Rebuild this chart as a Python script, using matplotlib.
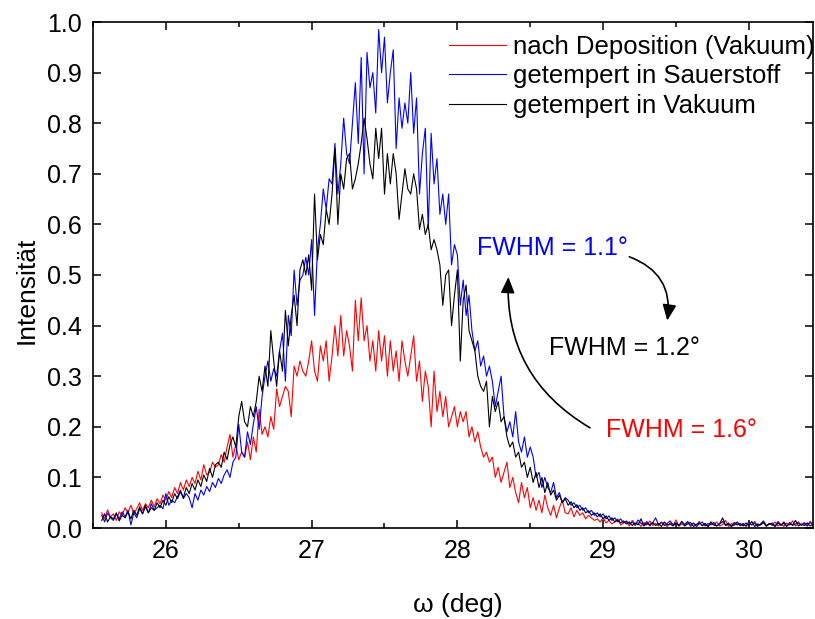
import numpy as np
import matplotlib
matplotlib.use("Agg")
import matplotlib.pyplot as plt
from matplotlib.ticker import MultipleLocator, FormatStrFormatter
from matplotlib import font_manager

# omega grid (deg), step 0.02 from 25.56
omega_start = 25.56
omega_step = 0.02

red_deposition = [
    0.030, 0.018, 0.036, 0.022, 0.028, 0.015, 0.032, 0.025, 0.040, 0.030,
    0.045, 0.028, 0.038, 0.050, 0.035, 0.048, 0.040, 0.055, 0.042, 0.058,
    0.048, 0.065, 0.055, 0.072, 0.060, 0.080, 0.068, 0.090, 0.075, 0.095,
    0.082, 0.100, 0.088, 0.112, 0.095, 0.125, 0.105, 0.110, 0.130, 0.120,
    0.125, 0.145, 0.130, 0.160, 0.185, 0.140, 0.165, 0.135, 0.150, 0.140,
    0.170, 0.135, 0.180, 0.150, 0.235, 0.185, 0.200, 0.180, 0.220, 0.195,
    0.275, 0.240, 0.260, 0.280, 0.270, 0.220, 0.320, 0.300, 0.330, 0.310,
    0.300, 0.330, 0.370, 0.310, 0.290, 0.360, 0.330, 0.370, 0.290, 0.340,
    0.400, 0.340, 0.420, 0.340, 0.390, 0.360, 0.310, 0.450, 0.370, 0.455,
    0.370, 0.400, 0.330, 0.370, 0.310, 0.390, 0.330, 0.380, 0.300, 0.370,
    0.310, 0.350, 0.290, 0.370, 0.330, 0.300, 0.340, 0.380, 0.290, 0.330,
    0.250, 0.310, 0.280, 0.200, 0.310, 0.230, 0.270, 0.220, 0.260, 0.200,
    0.220, 0.240, 0.200, 0.230, 0.210, 0.230, 0.180, 0.200, 0.170, 0.190,
    0.160, 0.140, 0.150, 0.130, 0.140, 0.100, 0.120, 0.090, 0.110, 0.130,
    0.080, 0.100, 0.070, 0.050, 0.090, 0.060, 0.080, 0.040, 0.060, 0.035,
    0.055, 0.030, 0.065, 0.040, 0.025, 0.045, 0.020, 0.040, 0.055, 0.030,
    0.028, 0.040, 0.022, 0.035, 0.025, 0.030, 0.018, 0.025, 0.020, 0.015,
    0.018, 0.012, 0.020, 0.010, 0.015, 0.008, 0.012, 0.018, 0.006, 0.010,
    0.012, 0.004, 0.015, 0.008, 0.010, 0.003, 0.011, 0.006, 0.014, 0.005,
    0.009, 0.004, 0.012, 0.007, 0.003, 0.010, 0.006, 0.016, 0.004, 0.008,
    0.005, 0.011, 0.003, 0.009, 0.006, 0.013, 0.004, 0.008, 0.002, 0.010,
    0.006, 0.012, 0.004, 0.007, 0.015, 0.003, 0.009, 0.005, 0.011, 0.004,
    0.008, 0.003, 0.010, 0.006, 0.013, 0.004, 0.007, 0.011, 0.003, 0.009,
    0.005, 0.012, 0.004, 0.008, 0.003, 0.010, 0.006, 0.014, 0.004, 0.009,
    0.006, 0.011, 0.004, 0.013, 0.007,
]

blue_oxygen = [
    0.025, 0.012, 0.030, 0.020, 0.015, 0.028, 0.018, 0.032, 0.022, 0.035,
    0.006, 0.030, 0.020, 0.038, 0.028, 0.042, 0.030, 0.048, 0.035, 0.040,
    0.045, 0.038, 0.068, 0.045, 0.055, 0.050, 0.062, 0.075, 0.058, 0.068,
    0.060, 0.040, 0.068, 0.055, 0.075, 0.065, 0.082, 0.072, 0.090, 0.080,
    0.098, 0.088, 0.105, 0.115, 0.100, 0.130, 0.140, 0.205, 0.150, 0.140,
    0.190, 0.165, 0.205, 0.240, 0.195, 0.260, 0.300, 0.330, 0.290, 0.315,
    0.300, 0.350, 0.385, 0.290, 0.420, 0.380, 0.510, 0.440, 0.490, 0.500,
    0.535, 0.500, 0.570, 0.420, 0.550, 0.600, 0.670, 0.630, 0.690, 0.680,
    0.760, 0.660, 0.720, 0.810, 0.740, 0.720, 0.800, 0.880, 0.760, 0.930,
    0.700, 0.940, 0.870, 0.900, 0.820, 0.985, 0.900, 0.970, 0.840, 0.900,
    0.945, 0.750, 0.850, 0.790, 0.840, 0.800, 0.900, 0.780, 0.850, 0.660,
    0.740, 0.790, 0.590, 0.780, 0.680, 0.730, 0.620, 0.660, 0.600, 0.660,
    0.520, 0.560, 0.540, 0.440, 0.490, 0.420, 0.460, 0.390, 0.350, 0.370,
    0.320, 0.340, 0.300, 0.320, 0.290, 0.240, 0.270, 0.300, 0.220, 0.190,
    0.210, 0.180, 0.230, 0.170, 0.150, 0.180, 0.140, 0.160, 0.140, 0.100,
    0.110, 0.080, 0.100, 0.080, 0.070, 0.090, 0.060, 0.070, 0.050, 0.060,
    0.055, 0.045, 0.050, 0.040, 0.045, 0.035, 0.040, 0.030, 0.035, 0.025,
    0.030, 0.022, 0.028, 0.018, 0.024, 0.015, 0.020, 0.012, 0.018, 0.010,
    0.014, 0.008, 0.012, 0.005, 0.016, 0.009, 0.006, 0.013, 0.004, 0.010,
    0.020, 0.007, 0.011, 0.005, 0.009, 0.014, 0.006, 0.010, 0.004, 0.012,
    0.007, 0.013, 0.005, 0.010, 0.003, 0.008, 0.012, 0.004, 0.009, 0.006,
    0.011, 0.004, 0.008, 0.013, 0.005, 0.010, 0.003, 0.007, 0.012, 0.005,
    0.009, 0.004, 0.012, 0.006, 0.010, 0.003, 0.008, 0.014, 0.005, 0.007,
    0.010, 0.004, 0.013, 0.006, 0.009, 0.003, 0.011, 0.005, 0.008, 0.012,
    0.005, 0.009, 0.004, 0.011, 0.006,
]

black_vacuum = [
    0.015, 0.028, 0.012, 0.022, 0.018, 0.030, 0.014, 0.025, 0.020, 0.032,
    0.018, 0.035, 0.025, 0.042, 0.028, 0.045, 0.030, 0.040, 0.035, 0.050,
    0.040, 0.055, 0.045, 0.062, 0.050, 0.068, 0.058, 0.072, 0.060, 0.080,
    0.068, 0.088, 0.075, 0.095, 0.082, 0.105, 0.092, 0.118, 0.100, 0.125,
    0.130, 0.120, 0.150, 0.135, 0.165, 0.180, 0.160, 0.220, 0.250, 0.210,
    0.200, 0.240, 0.220, 0.250, 0.300, 0.270, 0.320, 0.280, 0.390, 0.330,
    0.280, 0.350, 0.310, 0.430, 0.360, 0.420, 0.460, 0.400, 0.510, 0.530,
    0.500, 0.540, 0.470, 0.660, 0.530, 0.580, 0.560, 0.630, 0.600, 0.660,
    0.750, 0.600, 0.700, 0.670, 0.730, 0.740, 0.670, 0.690, 0.720, 0.760,
    0.810, 0.770, 0.720, 0.690, 0.790, 0.730, 0.790, 0.660, 0.740, 0.680,
    0.740, 0.700, 0.610, 0.660, 0.710, 0.670, 0.660, 0.700, 0.670, 0.590,
    0.620, 0.580, 0.600, 0.550, 0.570, 0.550, 0.520, 0.440, 0.500, 0.510,
    0.400, 0.460, 0.510, 0.330, 0.450, 0.480, 0.390, 0.370, 0.350, 0.300,
    0.280, 0.270, 0.290, 0.200, 0.260, 0.230, 0.250, 0.210, 0.220, 0.180,
    0.160, 0.170, 0.140, 0.150, 0.120, 0.130, 0.100, 0.120, 0.090, 0.110,
    0.080, 0.100, 0.070, 0.090, 0.065, 0.075, 0.055, 0.065, 0.050, 0.058,
    0.045, 0.052, 0.040, 0.046, 0.035, 0.040, 0.030, 0.034, 0.025, 0.030,
    0.022, 0.028, 0.018, 0.024, 0.015, 0.020, 0.012, 0.016, 0.010, 0.014,
    0.008, 0.012, 0.005, 0.010, 0.006, 0.018, 0.004, 0.009, 0.007, 0.011,
    0.005, 0.009, 0.003, 0.012, 0.006, 0.008, 0.004, 0.010, 0.005, 0.013,
    0.004, 0.008, 0.011, 0.003, 0.007, 0.010, 0.005, 0.009, 0.003, 0.012,
    0.006, 0.004, 0.009, 0.020, 0.005, 0.008, 0.003, 0.011, 0.006, 0.009,
    0.004, 0.010, 0.005, 0.013, 0.003, 0.008, 0.006, 0.011, 0.004, 0.009,
    0.007, 0.003, 0.010, 0.005, 0.012, 0.004, 0.008, 0.006, 0.015, 0.004,
    0.008, 0.005, 0.010, 0.004, 0.007,
]

labels = ["nach Deposition (Vakuum)", "getempert in Sauerstoff", "getempert in Vakuum"]
colors = ["#ff0000", "#0000ff", "#000000"]
fwhm_texts = ["FWHM = 1.1°", "FWHM = 1.2°", "FWHM = 1.6°"]

omega = omega_start + omega_step * np.arange(len(red_deposition))

plt.rcParams['font.family'] = ['Liberation Sans', 'DejaVu Sans']
available = {f.name for f in font_manager.fontManager.ttflist}
narrow_name = 'Liberation Sans Narrow' if 'Liberation Sans Narrow' in available else 'Liberation Sans'

fig = plt.figure(figsize=(8.15, 6.19), dpi=100)
ax = fig.add_axes([93/815, 91/619, 720/815, 506/619])

for y, c, lab in zip([red_deposition, blue_oxygen, black_vacuum], colors, labels):
    ax.plot(omega, y, color=c, lw=0.8, label=lab)

ax.set_xlim(25.5, 30.44)
ax.set_ylim(0, 1.0)
ax.xaxis.set_major_locator(MultipleLocator(1))
ax.xaxis.set_minor_locator(MultipleLocator(0.5))
ax.yaxis.set_major_locator(MultipleLocator(0.1))
ax.yaxis.set_major_formatter(FormatStrFormatter('%.1f'))
ax.tick_params(which='both', direction='in', top=True, right=True, width=1.1)
ax.tick_params(which='major', length=6)
ax.tick_params(which='minor', length=3.5)
ax.tick_params(axis='both', labelsize=18, pad=8, labelfontfamily=narrow_name)
for sp in ax.spines.values():
    sp.set_linewidth(1.2)

ax.set_xlabel("ω (deg)", fontsize=19, family=narrow_name)
ax.set_ylabel("Intensität", fontsize=19, family=narrow_name)
ax.xaxis.set_label_coords(0.506, -0.128)
ax.yaxis.set_label_coords(-0.076, 0.47)

leg = ax.legend(loc='upper left', bbox_to_anchor=(0.494, 0.975), frameon=False,
                fontsize=18.5, handlelength=2.25, handletextpad=0.25,
                labelspacing=0.22, borderpad=0, borderaxespad=0)

ax.text(28.137, 0.553, fwhm_texts[0], color='#0000ff', fontsize=18, ha='left', va='center')
ax.text(28.63, 0.356, fwhm_texts[1], color='#000000', fontsize=18, ha='left', va='center')
ax.text(29.02, 0.194, fwhm_texts[2], color='#ff0000', fontsize=18, ha='left', va='center')

arrow_style = '-|>,head_length=0.8,head_width=0.35'
ax.annotate('', xy=(28.35, 0.496), xytext=(28.91, 0.198),
            arrowprops=dict(arrowstyle=arrow_style, color='black', lw=1.2,
                            connectionstyle='arc3,rad=-0.3', shrinkA=0, shrinkB=0,
                            mutation_scale=12))
ax.annotate('', xy=(29.44, 0.41), xytext=(29.18, 0.536),
            arrowprops=dict(arrowstyle=arrow_style, color='black', lw=1.2,
                            connectionstyle='arc3,rad=-0.4', shrinkA=0, shrinkB=0,
                            mutation_scale=12))

fig.savefig("out.png", dpi=100)
